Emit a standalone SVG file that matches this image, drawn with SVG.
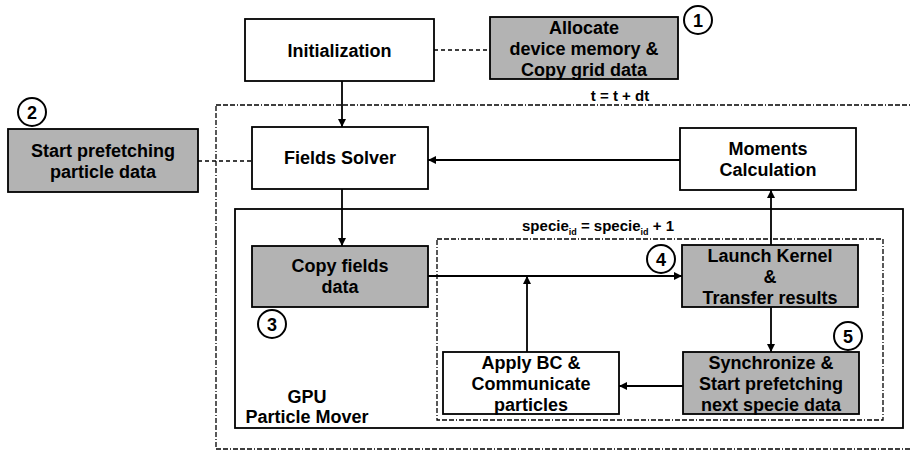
<svg xmlns="http://www.w3.org/2000/svg" width="910" height="451" viewBox="0 0 910 451">
<defs>
<style>
text{font-family:"Liberation Sans",Arial,sans-serif;font-weight:bold;fill:#000;text-anchor:middle}
.t18{font-size:18px}
.box{fill:#fff;stroke:#000;stroke-width:1.8}
.gbox{fill:#b3b3b3;stroke:#000;stroke-width:1.8}
.line{fill:none;stroke:#000;stroke-width:1.8}
.dash{fill:none;stroke:#000;stroke-width:1.6;stroke-dasharray:4,3}
.dd{fill:none;stroke:#000;stroke-width:1.3;stroke-dasharray:5,2,5,2,5,2,1,2}
.circ{fill:#fff;stroke:#000;stroke-width:2}
.num{font-size:18px}
</style>
<marker id="ah" viewBox="0 0 10 10" refX="10" refY="5" markerWidth="9" markerHeight="8" markerUnits="userSpaceOnUse" orient="auto">
<path d="M0,0 L10,5 L0,10 z" fill="#000"/>
</marker>
</defs>

<g id="loops">
<rect class="dd" x="216" y="105" width="710" height="344"/>
<text x="620" y="101" style="font-size:15px">t = t + dt</text>
<rect class="line" x="235" y="209" width="668" height="219"/>
<text class="t18" x="307" y="403">GPU</text>
<text class="t18" x="307" y="423">Particle Mover</text>
<rect class="dd" x="437" y="239" width="446" height="181"/>
<text x="598" y="231" style="font-size:15px">specie<tspan dy="4" style="font-size:9px">id</tspan><tspan dy="-4"> = specie</tspan><tspan dy="4" style="font-size:9px">id</tspan><tspan dy="-4"> + 1</tspan></text>
</g>

<g id="connectors">
<line class="dash" x1="434" y1="50" x2="490" y2="50"/>
<line class="dash" x1="198" y1="161" x2="252" y2="161"/>
<line class="line" x1="342" y1="81" x2="342" y2="127" marker-end="url(#ah)"/>
<line class="line" x1="680" y1="160" x2="428" y2="160" marker-end="url(#ah)"/>
<line class="line" x1="342" y1="189" x2="342" y2="246" marker-end="url(#ah)"/>
<line class="line" x1="428" y1="276" x2="682" y2="276" marker-end="url(#ah)"/>
<line class="line" x1="771" y1="245" x2="771" y2="190" marker-end="url(#ah)"/>
<line class="line" x1="771" y1="307" x2="771" y2="352" marker-end="url(#ah)"/>
<line class="line" x1="683" y1="386" x2="619" y2="386" marker-end="url(#ah)"/>
<line class="line" x1="527" y1="352" x2="527" y2="276" marker-end="url(#ah)"/>
</g>

<g id="init">
<rect class="box" x="245" y="19" width="189" height="62"/>
<text class="t18" x="339.5" y="57">Initialization</text>
</g>

<g id="allocate">
<rect class="gbox" x="490" y="17" width="188" height="62"/>
<text class="t18" x="584" y="34">Allocate</text>
<text class="t18" x="584" y="55">device memory &amp;</text>
<text class="t18" x="584" y="76">Copy grid data</text>
</g>
<g id="c1">
<circle class="circ" cx="698" cy="20" r="14"/>
<text class="num" x="698" y="26.5">1</text>
</g>

<g id="prefetch">
<rect class="gbox" x="8" y="129" width="190" height="63"/>
<text class="t18" x="103" y="157">Start prefetching</text>
<text class="t18" x="103" y="178">particle data</text>
</g>
<g id="c2">
<circle class="circ" cx="32" cy="112" r="14"/>
<text class="num" x="32" y="118.5">2</text>
</g>

<g id="fields">
<rect class="box" x="252" y="127" width="176" height="62"/>
<text class="t18" x="340" y="164">Fields Solver</text>
</g>

<g id="moments">
<rect class="box" x="680" y="128" width="176" height="62"/>
<text class="t18" x="768" y="155">Moments</text>
<text class="t18" x="768" y="176">Calculation</text>
</g>

<g id="copyfields">
<rect class="gbox" x="252" y="246" width="176" height="61"/>
<text class="t18" x="340" y="272">Copy fields</text>
<text class="t18" x="340" y="293">data</text>
</g>
<g id="c3">
<circle class="circ" cx="272" cy="324" r="14"/>
<text class="num" x="272" y="330.5">3</text>
</g>

<g id="launch">
<rect class="gbox" x="682" y="245" width="176" height="62"/>
<text class="t18" x="770" y="262">Launch Kernel</text>
<text class="t18" x="770" y="283">&amp;</text>
<text class="t18" x="770" y="304">Transfer results</text>
</g>
<g id="c4">
<circle class="circ" cx="661" cy="259" r="14"/>
<text class="num" x="661" y="265.5">4</text>
</g>

<g id="sync">
<rect class="gbox" x="683" y="352" width="176" height="62"/>
<text class="t18" x="771" y="369">Synchronize &amp;</text>
<text class="t18" x="771" y="390">Start prefetching</text>
<text class="t18" x="771" y="411">next specie data</text>
</g>
<g id="c5">
<circle class="circ" cx="848" cy="336" r="14"/>
<text class="num" x="848" y="342.5">5</text>
</g>

<g id="applybc">
<rect class="box" x="443" y="352" width="176" height="62"/>
<text class="t18" x="531" y="369">Apply BC &amp;</text>
<text class="t18" x="531" y="390">Communicate</text>
<text class="t18" x="531" y="411">particles</text>
</g>
</svg>
